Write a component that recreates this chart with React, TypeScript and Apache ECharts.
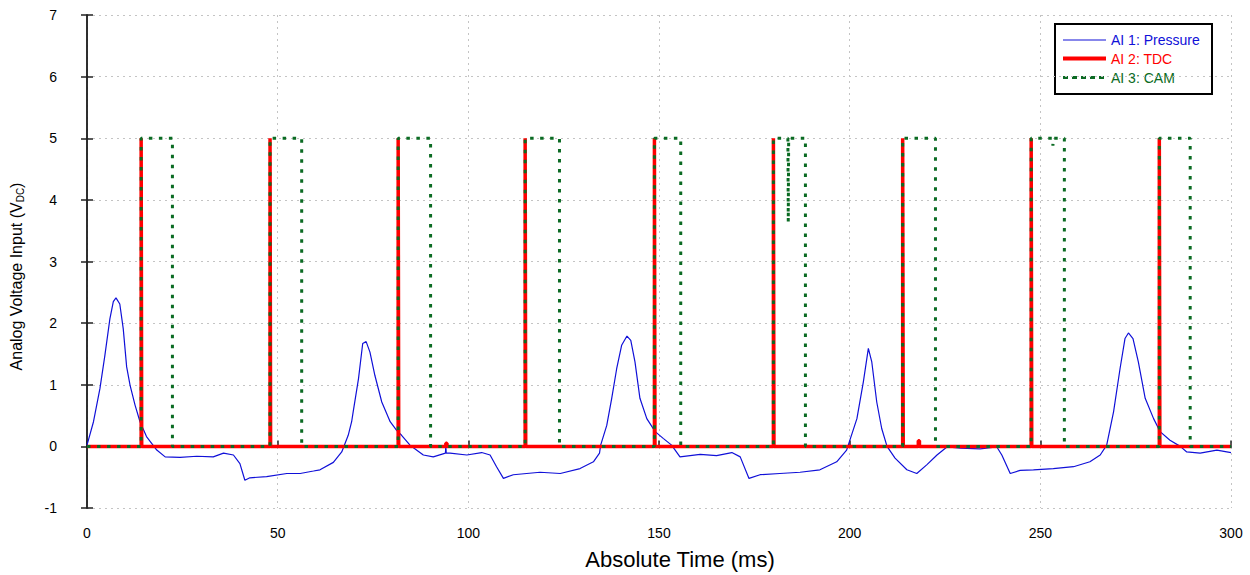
import React, { useEffect, useRef } from "react";
import * as echarts from "echarts";

// Pressure trace (AI 1), time in ms and voltage
const pressureTime = [
  0, 1.7, 3.4, 4.7, 6.0, 6.9, 7.6, 8.6, 9.5, 10.4, 11.3, 12.6, 13.9, 15.6, 18.3, 20.5, 24.4, 28.8, 33.1, 35.8,
  38.4, 40.1, 41.4, 42.7, 47.1, 52.4, 55.9, 59.4, 61.1, 64.6, 66.8, 68.5, 69.4, 69.8, 71.2, 72.3, 73.2, 74.2,
  75.5, 77.3, 79.5, 81.2, 82.5, 84.7, 88.2, 90.8, 94.0, 94.1, 94.2, 95.2, 99.6, 103.5, 105.7, 107.4, 109.2,
  111.8, 118.8, 124.1, 129.3, 132.8, 134.4, 134.7, 136.3, 137.6, 138.9, 140.2, 141.6, 142.6, 143.7, 145.0,
  146.8, 149.0, 151.1, 153.3, 155.5, 160.8, 165.1, 169.1, 171.3, 173.6, 176.5, 181.7, 187.0, 192.2, 196.6,
  199.2, 201.9, 203.6, 204.9, 205.8, 207.1, 208.4, 209.8, 211.9, 215.0, 217.6, 220.2, 222.9, 225.5, 229.0,
  234.2, 238.6, 239.9, 242.1, 244.7, 248.2, 253.4, 258.7, 263.0, 265.7, 267.4, 269.2, 270.9, 272.2, 273.1,
  274.3, 275.7, 277.5, 279.7, 281.4, 284.0, 286.7, 288.4, 291.9, 296.3, 300,
];
const pressureValue = [
  0.02, 0.4, 0.94, 1.48, 2.07, 2.35, 2.41, 2.31, 1.91, 1.29, 0.99, 0.67, 0.4, 0.16, -0.06, -0.17, -0.18, -0.16,
  -0.17, -0.11, -0.14, -0.28, -0.55, -0.51, -0.49, -0.44, -0.44, -0.4, -0.38, -0.26, -0.09, 0.18, 0.4, 0.56,
  1.1, 1.67, 1.7, 1.53, 1.15, 0.72, 0.4, 0.26, 0.18, 0.02, -0.14, -0.17, -0.11, 0.03, -0.11, -0.11, -0.14,
  -0.1, -0.14, -0.33, -0.52, -0.46, -0.42, -0.44, -0.36, -0.25, -0.11, 0.02, 0.34, 0.78, 1.26, 1.64, 1.79,
  1.72, 1.37, 0.78, 0.45, 0.24, 0.13, 0.02, -0.17, -0.13, -0.15, -0.1, -0.17, -0.52, -0.46, -0.44, -0.42,
  -0.38, -0.25, -0.06, 0.45, 1.05, 1.59, 1.37, 0.72, 0.29, 0.0, -0.19, -0.38, -0.44, -0.3, -0.14, -0.01,
  -0.03, -0.04, -0.01, -0.14, -0.44, -0.39, -0.38, -0.36, -0.33, -0.25, -0.14, 0.02, 0.56, 1.26, 1.75, 1.84,
  1.75, 1.37, 0.78, 0.45, 0.24, 0.1, 0.0, -0.09, -0.11, -0.06, -0.1,
];

// TDC (AI 2) pulse times in ms, high level 5 V
const tdcTimes = [14.2, 48.0, 81.6, 114.9, 148.8, 180.0, 213.9, 247.6, 281.2];
const tdcHigh = 5;
const tdcWidth = 0.15;
// small glitches on TDC line: [time, value]
const tdcGlitches = [
  [94.1, 0.05],
  [218.0, 0.09],
];

// CAM (AI 3) pulses: rise at TDC, fall times
const camRise = [14.2, 48.0, 81.6, 114.9, 148.8, 180.0, 213.9, 247.6, 281.2];
const camFall = [22.4, 56.3, 90.1, 123.9, 155.7, 188.4, 222.5, 256.3, 289.3];
const camHigh = 5;
// dips during high state: [time, low value]
const camDips = [
  [183.9, 3.64],
  [253.3, 4.88],
];

const seriesNames = ["AI 1: Pressure", "AI 2: TDC", "AI 3: CAM"];

const xTicks = { min: 0, max: 300, interval: 50 };
const yTicks = { min: -1, max: 7, interval: 1 };

const FONT = "Liberation Sans, Arial, Helvetica, sans-serif";
const BLUE = "#1010d8";
const RED = "#ff0000";
const GREEN = "#0b6b23";

function buildPressure() {
  return pressureTime.map((t, i) => [t, pressureValue[i]]);
}

function buildTdc() {
  const events: { t: number; kind: "pulse" | "glitch"; v: number }[] = [];
  tdcTimes.forEach((t) => events.push({ t, kind: "pulse", v: tdcHigh }));
  tdcGlitches.forEach(([t, v]) => events.push({ t, kind: "glitch", v }));
  events.sort((a, b) => a.t - b.t);
  const d: number[][] = [[0, 0]];
  events.forEach((e) => {
    const w = e.kind === "pulse" ? tdcWidth : 0.3;
    d.push([e.t, 0], [e.t, e.v], [e.t + w, e.v], [e.t + w, 0]);
  });
  d.push([300, 0]);
  return d;
}

function buildCam() {
  const d: number[][] = [[0, 0]];
  camRise.forEach((r, i) => {
    const f = camFall[i];
    d.push([r, 0], [r, camHigh]);
    camDips.forEach(([t, v]) => {
      if (t > r && t < f) {
        d.push([t - 0.1, camHigh], [t, v], [t + 0.1, camHigh]);
      }
    });
    d.push([f, camHigh], [f, 0]);
  });
  d.push([300, 0]);
  return d;
}

function legendGraphic() {
  const x0 = 1055;
  const y0 = 24;
  const rows = [40, 58.5, 77.5];
  const styles = [
    { color: BLUE, width: 1.2, dash: null as any },
    { color: RED, width: 4, dash: null as any },
    { color: GREEN, width: 3, dash: [5, 4] },
  ];
  const children: any[] = [
    {
      type: "rect",
      shape: { x: x0, y: y0, width: 157, height: 70 },
      style: { fill: "#fff", stroke: "#000", lineWidth: 2 },
    },
  ];
  seriesNames.forEach((name, i) => {
    const s = styles[i];
    children.push({
      type: "line",
      shape: { x1: 1063, y1: rows[i], x2: 1106, y2: rows[i] },
      style: { stroke: s.color, lineWidth: s.width, lineDash: s.dash || undefined },
    });
    children.push({
      type: "text",
      x: 1111,
      y: rows[i],
      style: { text: name, fill: s.color, font: `14px ${FONT}`, verticalAlign: "middle", align: "left" },
    });
  });
  return [{ type: "group", z: 100, children }];
}

export default function App() {
  const ref = useRef<HTMLDivElement>(null);
  useEffect(() => {
    if (!ref.current) return;
    const chart = echarts.init(ref.current, undefined, { renderer: "svg" });
    const axisLine = { show: true, lineStyle: { color: "#222", width: 1.5 } };
    const tick = { show: true, inside: true, length: 6, lineStyle: { color: "#222", width: 1.5 } };
    const split = { show: true, lineStyle: { color: "#c4c4c4", type: [2, 4] as any, width: 1 } };
    chart.setOption({
      animation: false,
      backgroundColor: "#fff",
      textStyle: { fontFamily: FONT },
      grid: { left: 87, top: 15, width: 1144, height: 495, containLabel: false },
      graphic: legendGraphic(),
      xAxis: [
        {
          type: "value",
          min: xTicks.min,
          max: xTicks.max,
          interval: xTicks.interval,
          name: "Absolute Time (ms)",
          nameLocation: "middle",
          nameGap: 40,
          nameTextStyle: { fontSize: 22, color: "#000", fontFamily: FONT, padding: [0, 0, 0, 42] },
          axisLine,
          axisTick: tick,
          axisLabel: { fontSize: 14, color: "#000", margin: 18, fontFamily: FONT },
          splitLine: split,
        },
        {
          type: "value",
          position: "top",
          min: xTicks.min,
          max: xTicks.max,
          interval: xTicks.interval,
          axisLine,
          axisTick: { show: false },
          axisLabel: { show: false },
          splitLine: { show: false },
        },
      ],
      yAxis: [
        {
          type: "value",
          min: yTicks.min,
          max: yTicks.max,
          interval: yTicks.interval,
          name: "Analog Voltage Input (V{sub|DC})",
          nameLocation: "middle",
          nameGap: 62,
          nameRotate: 90,
          nameTextStyle: {
            fontSize: 16,
            color: "#000",
            fontFamily: FONT,
            padding: [0, 30, 0, 0],
            rich: {
              sub: { fontSize: 10, color: "#000", fontFamily: FONT, verticalAlign: "bottom", padding: [8, 0, 0, 0] },
            },
          },
          axisLine,
          axisTick: tick,
          axisLabel: { fontSize: 14, color: "#000", margin: 30, fontFamily: FONT },
          splitLine: split,
        },
        {
          type: "value",
          position: "right",
          min: yTicks.min,
          max: yTicks.max,
          interval: yTicks.interval,
          axisLine,
          axisTick: tick,
          axisLabel: { show: false },
          splitLine: { show: false },
        },
      ],
      series: [
        {
          name: seriesNames[0],
          type: "line",
          data: buildPressure(),
          symbol: "none",
          lineStyle: { color: BLUE, width: 1.2 },
          itemStyle: { color: BLUE },
          z: 2,
        },
        {
          name: seriesNames[1],
          type: "line",
          data: buildTdc(),
          symbol: "none",
          lineStyle: { color: RED, width: 3.5 },
          itemStyle: { color: RED },
          z: 3,
        },
        {
          name: seriesNames[2],
          type: "line",
          data: buildCam(),
          symbol: "none",
          lineStyle: { color: GREEN, width: 3, type: [3.5, 6.5] as any },
          itemStyle: { color: GREEN },
          z: 4,
        },
      ],
    });
    return () => chart.dispose();
  }, []);
  return <div ref={ref} style={{ position: "fixed", left: 0, top: 0, width: 1250, height: 575 }} />;
}
